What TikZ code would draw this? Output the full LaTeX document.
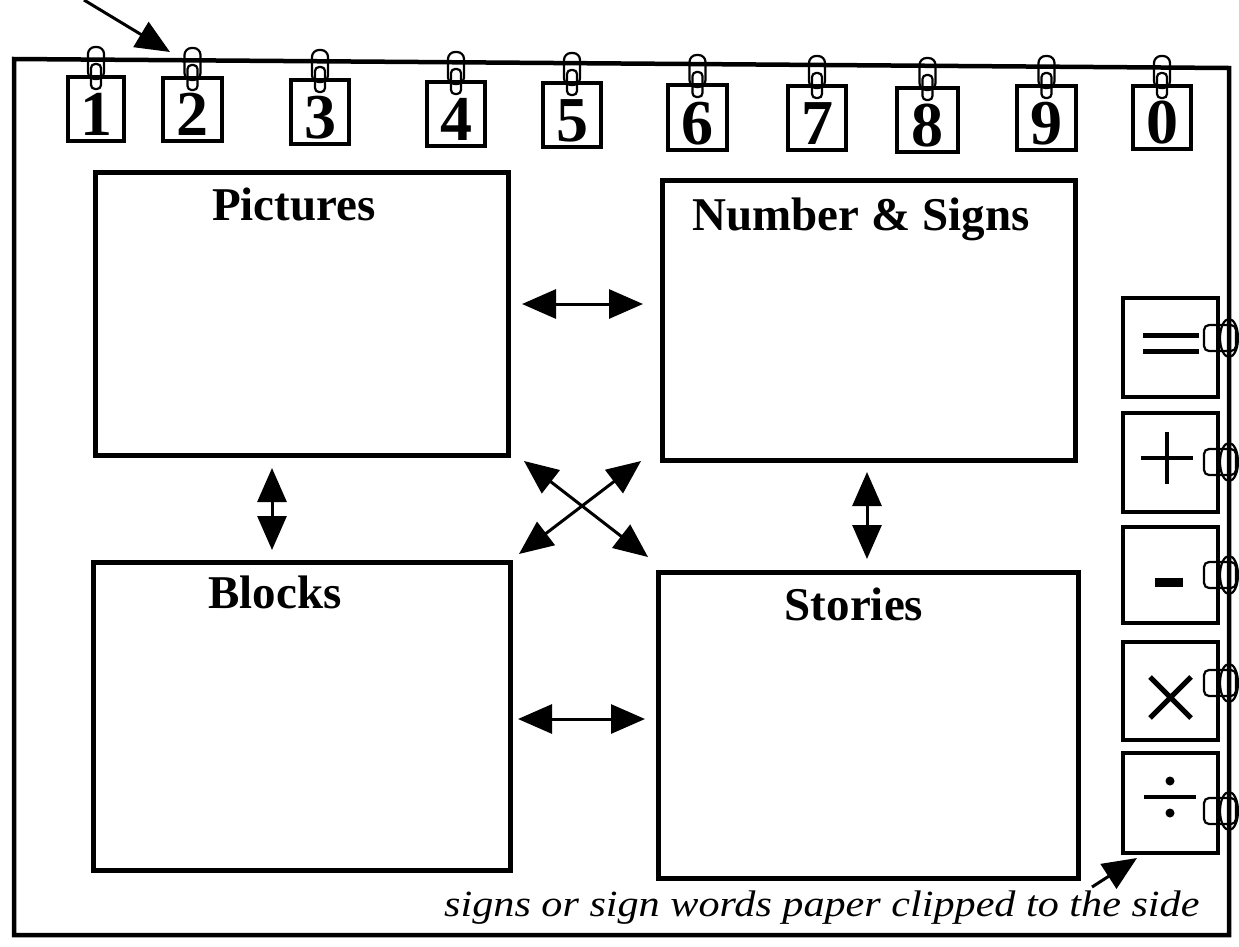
\documentclass[tikz,border=0pt]{standalone}
\usepackage{fontspec}
\setmainfont{Liberation Serif}
\usetikzlibrary{arrows.meta}
\begin{document}
\begin{tikzpicture}[x=1pt,y=-1pt,
  frame/.style={line width=4.5pt, line join=miter},
  bigbox/.style={draw, line width=5pt, rectangle, inner sep=0pt},
  card/.style={line width=4.5pt},
  clipline/.style={line width=2.2pt},
  dbl/.style={line width=3pt, {Triangle[length=34pt,width=29pt]}-{Triangle[length=34pt,width=29pt]}},
  sgl/.style={line width=3pt, -{Triangle[length=34pt,width=29pt]}},
  lbl/.style={font=\fontsize{47}{50}\selectfont\bfseries, inner sep=0pt, anchor=base},
  digit/.style={font=\fontsize{64}{66}\selectfont\bfseries, inner sep=0pt, anchor=base},
  note/.style={font=\fontsize{37}{40}\selectfont\itshape, inner sep=0pt, anchor=base west},
]
\useasboundingbox (0,0) rectangle (1239,946);
\begin{scope}
\clip (0,0) rectangle (1239,946);
% outer frame
\draw[frame] (14,59) -- (1229,68) -- (1229,935) -- (14,935) -- cycle;
% big boxes
\node[bigbox, minimum width=413pt, minimum height=283pt] (pic) at (301.5,313.5) {};
\node[bigbox, minimum width=413pt, minimum height=280pt] (num) at (868.5,320) {};
\node[bigbox, minimum width=417pt, minimum height=308pt] (blk) at (301.5,716) {};
\node[bigbox, minimum width=420pt, minimum height=306pt] (sto) at (868,725) {};
\node[lbl] (picl) at (294,220) {Pictures};
\node[lbl] (numl) at (861,230) {Number \& Signs};
\node[lbl] (blkl) at (275,608) {Blocks};
\node[lbl] (stol) at (854,620) {Stories};
% number cards with clips
\foreach \l/\r/\t/\b/\d in {68/124/77/141/1, 163/222/78/141/2, 291/349/80/144/3, 427/485/82/146/4, 543/601/83/147/5, 668/727/85/150/6, 788/846/86/150/7, 897/958/88/152/8, 1017/1076/86/150/9, 1133/1191/86/149/0}{
  \pgfmathsetmacro\cx{(\l+\r)/2}
  \draw[card] (\l,\t) rectangle (\r,\b);
  \node[digit] (d\d) at (\cx,\b-6) {\d};
  \draw[clipline, rounded corners=7pt] (\cx-8,\t-30) rectangle (\cx+8,\t+2);
  \draw[clipline, rounded corners=4pt] (\cx-5,\t-13) rectangle (\cx+5,\t+12);
}
% sign cards with clips
\foreach \t/\b/\c in {298/397/338, 413/512/462, 527/623/575, 642/740/683, 753/853/811}{
  \draw[card] (1123,\t) rectangle (1218,\b);
  \draw[clipline, rounded corners=5pt] (1204,\c-13) rectangle (1236,\c+13);
  \draw[clipline] (1229,\c) ellipse [x radius=9pt, y radius=19pt];
}
% signs
\draw[line width=5pt] (1143,335) -- (1199,335) (1143,351) -- (1199,351);
\draw[line width=4.5pt] (1141,458) -- (1193,458) (1167,432) -- (1167,484);
\fill (1155,578) rectangle (1183,587);
\draw[line width=5pt] (1150,677) -- (1191,718) (1191,677) -- (1150,718);
\draw[line width=4pt] (1144,797) -- (1196,797);
\fill (1170,781) circle (4.5pt) (1170,813) circle (4.5pt);
% arrow end points
\coordinate (h1a) at (522,304); \coordinate (h1b) at (643,304);
\coordinate (h2a) at (518,719); \coordinate (h2b) at (645,719);
\coordinate (v1a) at (272,468); \coordinate (v1b) at (272,550);
\coordinate (v2a) at (867,472); \coordinate (v2b) at (867,559);
\coordinate (x1a) at (524,461); \coordinate (x1b) at (648,557);
\coordinate (x2a) at (641,461); \coordinate (x2b) at (519,554);
\coordinate (ta) at (84,0); \coordinate (tb) at (170,52);
\coordinate (ba) at (1092,887); \coordinate (bb) at (1137,858);
\draw[dbl] (h1a) -- (h1b);
\draw[dbl] (h2a) -- (h2b);
\draw[dbl] (v1a) -- (v1b);
\draw[dbl] (v2a) -- (v2b);
\draw[dbl] (x1a) -- (x1b);
\draw[dbl] (x2a) -- (x2b);
\draw[sgl] (ta) -- (tb);
\draw[sgl] (ba) -- (bb);
\node[note] (side) at (444,916) {\scalebox{1.14}[1]{signs or sign words paper clipped to the side}};
\end{scope}
\end{tikzpicture}
\end{document}
